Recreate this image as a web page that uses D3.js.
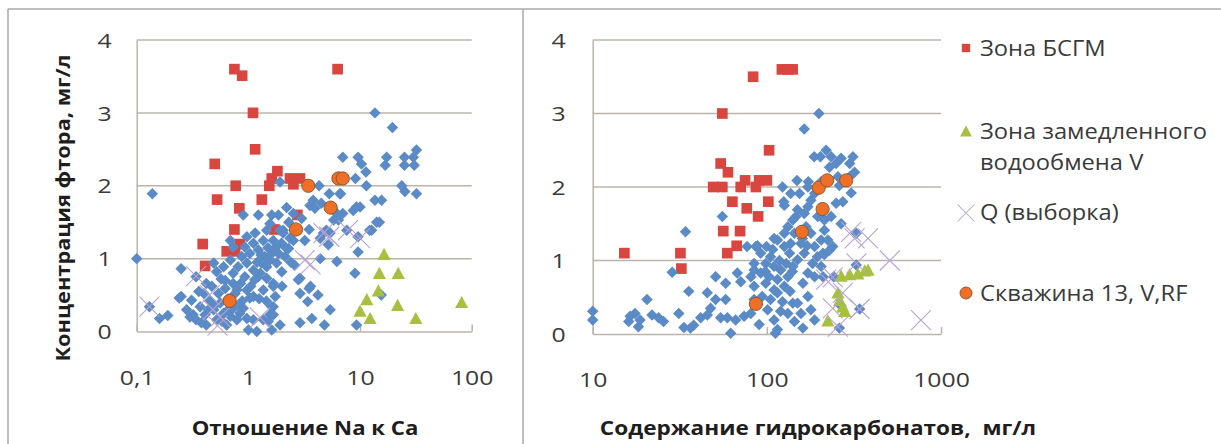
<!DOCTYPE html>
<html>
<head>
<meta charset="utf-8">
<script src="https://cdn.jsdelivr.net/npm/d3@7"></script>
<style>
  html, body { margin: 0; padding: 0; background: #ffffff; }
  svg { display: block; }
  text { font-family: "Open Sans", "Noto Sans", sans-serif; white-space: pre; }
</style>
</head>
<body>
<svg id="chart" width="1221" height="444"></svg>
<script>
// ---------- axis ticks and labels ----------
const fluorideTicks = [0, 1, 2, 3, 4];
const naCaTicks = [0.1, 1, 10, 100];
const naCaTickLabels = ["0,1", "1", "10", "100"];
const hco3Ticks = [10, 100, 1000];
const hco3TickLabels = ["10", "100", "1000"];

const naCaTitle = "Отношение Na к Ca";
const hco3Title = "Содержание гидрокарбонатов,  мг/л";
const fluorideTitle = "Концентрация фтора, мг/л";

const seriesNames = ["Зона БСГМ", "Зона замедленного\nводообмена V", "Q (выборка)", "Скважина 13, V,RF"];

// ---------- Na/Ca ratio vs fluoride, mg/l ----------
const naCaBsgm = [
  [0.75, 3.6], [0.88, 3.51], [6.3, 3.6], [1.10, 3.0], [1.15, 2.5], [0.50, 2.3],
  [0.77, 2.0], [0.525, 1.81], [1.32, 1.81], [0.83, 1.69], [1.54, 2.0], [1.62, 2.1],
  [1.82, 2.2], [2.36, 2.1], [2.53, 2.02], [2.90, 2.1], [2.75, 1.6], [1.71, 1.4],
  [0.75, 1.4], [0.39, 1.2], [0.84, 1.2], [0.64, 1.1], [0.76, 1.1], [0.41, 0.9]
];
const naCaSlowExchange = [
  [16.4, 1.05], [14.9, 0.79], [22.0, 0.79], [14.6, 0.55], [11.5, 0.43],
  [10.0, 0.27], [12.3, 0.17], [21.7, 0.35], [31.6, 0.17], [81.3, 0.39]
];
const naCaSampleQ = [
  [0.13, 0.34], [0.34, 0.76], [0.45, 0.5], [0.48, 0.3], [0.53, 0.08], [0.56, 0.2],
  [1.27, 0.19], [3.2, 0.98], [3.6, 0.92], [4.7, 1.35], [5.3, 1.3], [7.8, 1.39], [10.0, 1.28]
];
const naCaWell13 = [
  [3.44, 2.0], [6.4, 2.1], [7.0, 2.1], [5.46, 1.7], [2.67, 1.4], [0.68, 0.42]
];
const naCaOther = [
  [0.1, 1.0], [0.138, 1.89], [0.13, 0.34], [0.16, 0.18], [0.19, 0.22], [0.25, 0.86], [0.24, 0.46],
  [0.28, 0.30], [0.31, 0.43], [0.32, 0.23], [0.34, 0.16], [0.37, 0.34], [0.40, 0.52], [0.41, 0.23],
  [0.42, 0.09], [0.45, 0.43], [0.49, 0.30], [0.52, 0.16], [0.54, 0.52], [0.56, 0.39], [0.60, 0.25],
  [0.62, 0.59], [0.64, 0.09], [0.69, 0.21], [0.73, 0.32], [0.76, 0.52], [0.79, 0.16], [0.84, 0.25],
  [0.90, 0.32], [0.97, 0.18], [1.0, 0.02], [1.19, 0.0], [1.11, 0.16], [1.36, 0.16], [1.51, 0.14],
  [1.62, 0.02], [1.67, 0.23], [1.67, 0.34], [1.92, 0.09], [1.11, 0.48], [1.03, 0.46], [0.25, 0.48],
  [0.34, 0.75], [0.42, 0.66], [0.52, 0.82], [0.49, 0.94], [0.60, 0.89], [0.73, 0.80], [0.69, 0.98],
  [0.81, 0.89], [0.93, 0.75], [0.73, 0.66], [0.79, 0.57], [0.97, 0.57], [1.14, 0.71], [1.28, 0.80],
  [1.46, 0.73], [1.67, 0.62], [1.74, 0.48], [1.36, 0.57], [0.87, 1.03], [0.97, 0.94], [1.03, 1.07],
  [1.11, 1.21], [1.15, 1.35], [1.23, 1.12], [1.31, 0.94], [1.40, 1.03], [1.46, 0.89], [1.56, 0.98],
  [1.62, 1.07], [1.67, 1.25], [1.79, 0.94], [1.86, 1.07], [1.98, 1.21], [2.05, 1.35], [2.13, 1.03],
  [2.29, 1.14], [2.36, 1.28], [2.53, 1.25], [1.11, 0.84], [1.23, 0.75], [0.93, 1.16], [0.97, 1.3],
  [0.73, 1.16], [0.69, 1.25], [0.9, 1.6], [1.23, 1.6], [1.62, 1.6], [1.86, 1.6], [1.46, 1.39],
  [1.36, 1.25], [1.56, 1.48], [1.92, 1.39], [1.92, 2.05], [2.53, 1.62], [2.2, 1.7], [3.0, 1.55],
  [3.5, 1.4], [2.3, 1.5], [1.56, 0.23], [1.62, 0.34], [2.8, 0.71], [1.67, 0.66], [1.99, 0.82],
  [2.6, 0.91], [2.9, 0.73], [3.5, 0.59], [4.2, 0.5], [3.4, 0.41], [5.4, 0.3], [3.7, 0.18],
  [2.9, 0.12], [4.8, 0.09], [9.3, 0.09], [3.2, 1.25], [5.2, 1.19], [4.4, 1.0], [4.7, 1.35],
  [6.2, 0.96], [9.0, 0.8], [9.6, 1.09], [12.2, 1.39], [14.1, 1.5], [3.6, 0.62], [2.9, 0.52],
  [4.4, 1.28], [2.2, 1.14], [2.05, 1.39], [13.6, 3.0], [19.5, 2.8], [7.0, 2.39], [9.6, 2.39],
  [10.3, 2.3], [11.3, 2.19], [17.3, 2.39], [16.8, 2.28], [25, 2.39], [30, 2.39], [25, 2.28],
  [30.6, 2.28], [32, 2.49], [9.1, 2.1], [11.4, 2.0], [4.3, 2.0], [5.3, 1.89], [6.7, 1.89],
  [23.6, 2.0], [25.2, 1.92], [32, 1.89], [3.8, 1.8], [13.6, 1.8], [15.6, 1.8], [10, 1.71],
  [8.7, 1.66], [3.56, 1.73], [3.94, 1.69], [9.3, 1.71], [6.2, 1.62], [5.0, 1.39], [7.6, 1.39],
  [9.6, 1.3], [12.7, 1.39], [14.9, 1.5], [6.6, 1.89], [4.5, 1.76], [5.8, 1.53], [5.4, 1.35],
  [7.0, 1.62], [6.4, 1.53], [15.5, 0.5], [0.57, 0.72], [0.47, 0.62], [0.66, 0.45], [0.36, 0.55],
  [1.05, 0.62], [1.25, 0.45], [0.88, 0.42], [1.45, 0.42], [2.4, 0.95], [2.0, 0.62],
  [0.30, 0.2], [0.38, 0.12], [0.44, 0.3], [0.5, 0.36], [0.58, 0.14], [0.66, 0.3], [0.82, 0.36],
  [0.62, 0.7], [0.85, 0.66], [1.2, 0.95], [1.5, 1.15], [1.75, 1.15], [1.3, 1.05]
];

// ---------- bicarbonate content, mg/l vs fluoride, mg/l ----------
const hco3Bsgm = [
  [15.2, 1.1], [31.9, 1.1], [32.3, 0.89], [55.5, 3.0], [83.4, 3.5], [122, 3.6],
  [131.6, 3.6], [140.6, 3.6], [103, 2.5], [54.3, 2.32], [59.8, 2.2], [49.2, 2.0],
  [55.5, 2.0], [70.8, 2.0], [75, 2.09], [86.5, 2.0], [90.3, 2.09], [100, 2.09],
  [63.4, 1.8], [102, 1.8], [76.7, 1.71], [89.1, 1.6], [56.2, 1.4], [70.2, 1.4],
  [67.1, 1.2], [59.3, 1.1]
];
const hco3SlowExchange = [
  [267, 0.78], [299, 0.8], [333, 0.81], [365, 0.85], [381, 0.86],
  [256, 0.55], [262, 0.45], [273, 0.36], [280, 0.3], [224, 0.17]
];
const hco3SampleQ = [
  [305, 1.39], [319, 1.30], [381, 1.30], [327, 0.96], [508, 1.0], [239, 0.77],
  [273, 0.56], [239, 0.35], [341, 0.34], [256, 0.10], [767, 0.19], [219, 0.74]
];
const hco3Well13 = [
  [198.6, 1.99], [222, 2.09], [285.6, 2.09], [209, 1.70], [159, 1.39], [86.5, 0.41]
];
const hco3Other = [
  [10, 0.31], [10, 0.19], [16.4, 0.24], [17.5, 0.28], [18.7, 0.19], [18.3, 0.10], [16.1, 0.17],
  [20.5, 0.47], [21.9, 0.26], [23.9, 0.22], [25.5, 0.17], [28.6, 0.84], [34.1, 1.39], [31.2, 0.28],
  [33.4, 0.09], [36.4, 0.08], [38, 0.12], [35.6, 0.58], [45.5, 0.56], [50.8, 0.78], [58, 0.69],
  [55.5, 1.6], [41.7, 0.22], [45.5, 0.26], [47.5, 0.35], [54.3, 0.22], [59.3, 0.22], [66.2, 0.19],
  [74, 0.24], [80.9, 0.28], [84.5, 0.47], [62, 0.01], [50.8, 0.47], [58, 0.47], [70.8, 0.71],
  [67.7, 0.83], [84.5, 0.87], [86.5, 1.19], [88.3, 1.2], [99.5, 1.19], [110, 1.3], [101, 0.33],
  [110, 0.19], [115, 0.06], [112, 0.01], [90.3, 0.13], [123, 2.0], [125, 1.8], [149, 2.09],
  [164, 2.79], [199, 3.0], [187, 2.41], [203, 2.41], [219, 2.5], [234, 2.41], [250, 2.32],
  [267, 2.39], [312, 2.41], [299, 2.32], [319, 2.2], [305, 1.92], [273, 1.8], [261, 2.02],
  [267, 1.5], [214, 1.41], [224, 1.28], [214, 1.08], [326, 1.37], [326, 0.94], [242, 0.78],
  [341, 0.34], [261, 0.08], [267, 0.38], [161, 0.08], [136, 0.58], [141, 0.42], [120, 0.31],
  [123, 0.44], [84.5, 0.96], [92.2, 1.10], [98.6, 0.96], [105, 1.05], [110, 0.92], [92.2, 0.83],
  [103, 0.78], [115, 0.74], [120, 0.87], [129, 0.96], [135, 1.10], [137, 1.23], [144, 1.37],
  [147, 1.6], [150, 1.69], [141, 1.55], [164, 1.64], [172, 1.73], [179, 1.82], [188, 1.91],
  [172, 2.0], [154, 1.91], [137, 1.91], [157, 1.23], [164, 1.10], [150, 1.01], [141, 0.92],
  [132, 0.78], [126, 0.65], [115, 0.56], [105, 0.47], [94, 0.51], [84.5, 0.65], [81, 0.78],
  [77, 1.19], [115, 1.28], [126, 1.19], [126, 1.37], [132, 1.46], [168, 1.46], [179, 1.37],
  [188, 1.19], [183, 0.96], [172, 0.83], [161, 0.69], [188, 0.78], [205, 0.92], [210, 1.10],
  [205, 1.28], [172, 0.51], [150, 0.42], [157, 0.28], [179, 0.33], [188, 0.19], [144, 0.17],
  [132, 0.28], [110, 0.60], [98.6, 0.69], [88.3, 0.40], [173, 2.07], [205, 2.07], [229, 2.27],
  [256, 2.14], [299, 2.14], [250, 1.78], [234, 1.6], [214, 1.55], [196, 1.6], [239, 1.19],
  [229, 1.14], [126, 1.75], [210, 0.78], [98, 0.85], [108, 1.15], [118, 1.0], [140, 0.85],
  [160, 1.3], [170, 1.2], [195, 1.05]
];

// ---------- layout ----------
const W = 1221, H = 444;
const svg = d3.select("#chart");

const colors = {
  other: "#5b8bc6",
  bsgm: "#d9463f",
  slow: "#a7c03f",
  q: "#b9a2d2",
  well: "#ef6f26",
  wellStroke: "#8b5a32",
  grid: "#bab4ac",
  frame: "#a9a9a9",
  tick: "#3a3a3a",
  title: "#1e1e1e"
};

const TX = 1.13;        // horizontal stretch of the text face
const TICK_TX = 1.24;   // stretch of the numeric tick labels

// outer frame of the figure
const frame = svg.append("g").attr("stroke", colors.frame).attr("stroke-width", 1.5).attr("fill", "none");
frame.append("line").attr("x1", 8).attr("x2", 8).attr("y1", 9).attr("y2", H);
frame.append("line").attr("x1", 8).attr("x2", W).attr("y1", 9).attr("y2", 9);
frame.append("line").attr("x1", 523).attr("x2", 523).attr("y1", 9).attr("y2", H);

function stretchedText(g, str, x, y, anchor, size, weight, fill, sx, rotate) {
  return g.append("text")
    .attr("text-anchor", anchor)
    .attr("font-size", size)
    .attr("font-weight", weight)
    .attr("fill", fill)
    .attr("transform", `translate(${x},${y})` + (rotate ? ` rotate(${rotate})` : "") + ` scale(${sx},1)`)
    .text(str);
}

// symbol shapes
const diamondPath = d3.symbol().type(d3.symbolSquare).size(66)();
const squarePath = d3.symbol().type(d3.symbolSquare).size(114)();
const trianglePath = "M0,-7.2L6.6,5L-6.6,5Z";
const crossPath = "M-10,-10L10,10M-10,10L10,-10";

function drawPanel(cfg) {
  const g = svg.append("g");
  const x = d3.scaleLog().domain(cfg.domain).range([cfg.left, cfg.right]);
  const y = d3.scaleLinear().domain([0, 4]).range([cfg.bottom, cfg.top]);

  // horizontal gridlines
  g.append("g").selectAll("line").data(fluorideTicks.filter(d => d > 0)).join("line")
    .attr("x1", cfg.left).attr("x2", cfg.right)
    .attr("y1", d => y(d)).attr("y2", d => y(d))
    .attr("stroke", colors.grid).attr("stroke-width", 1.5);

  // x axis (ticks inside the plot area)
  const xAxis = d3.axisBottom(x)
    .tickValues(cfg.ticks)
    .tickFormat((d, i) => cfg.labels[i])
    .tickSizeInner(-7).tickSizeOuter(0).tickPadding(0);
  const gx = g.append("g").attr("transform", `translate(0,${cfg.bottom})`).call(xAxis);
  gx.select(".domain").attr("stroke", colors.grid).attr("stroke-width", 1.5);
  gx.selectAll(".tick line").attr("stroke", colors.grid).attr("stroke-width", 1.5);
  gx.selectAll(".tick text")
    .attr("y", null).attr("dy", null)
    .attr("font-size", 20).attr("fill", colors.tick)
    .attr("font-family", '"Open Sans", "Noto Sans", sans-serif')
    .attr("transform", `translate(0,${cfg.xLabelOffset}) scale(${TICK_TX},1)`);

  // y axis
  const yAxis = d3.axisLeft(y).tickValues(fluorideTicks).tickFormat(d3.format("d"))
    .tickSizeInner(0).tickSizeOuter(0).tickPadding(0);
  const gy = g.append("g").attr("transform", `translate(${cfg.left},0)`).call(yAxis);
  gy.select(".domain").attr("stroke", colors.grid).attr("stroke-width", 1.5);
  gy.selectAll(".tick text")
    .attr("x", null).attr("dy", "0.36em")
    .attr("font-size", 20).attr("fill", colors.tick)
    .attr("font-family", '"Open Sans", "Noto Sans", sans-serif')
    .attr("transform", `translate(${-cfg.yLabelGap},0) scale(${TICK_TX},1)`);

  const pos = d => `translate(${x(d[0])},${y(d[1])})`;

  g.append("g").selectAll("path").data(cfg.bsgm).join("path")
    .attr("d", squarePath).attr("transform", pos).attr("fill", colors.bsgm);

  g.append("g").selectAll("path").data(cfg.other).join("path")
    .attr("d", diamondPath).attr("transform", d => pos(d) + " rotate(45)").attr("fill", colors.other);

  g.append("g").selectAll("path").data(cfg.slow).join("path")
    .attr("d", trianglePath).attr("transform", pos).attr("fill", colors.slow);

  g.append("g").selectAll("path").data(cfg.q).join("path")
    .attr("d", crossPath).attr("transform", pos)
    .attr("fill", "none").attr("stroke", colors.q).attr("stroke-width", 1.1);

  g.append("g").selectAll("circle").data(cfg.well).join("circle")
    .attr("cx", d => x(d[0])).attr("cy", d => y(d[1])).attr("r", 6.6)
    .attr("fill", colors.well).attr("stroke", colors.wellStroke).attr("stroke-width", 1);

  // x axis title
  stretchedText(g, cfg.title, cfg.titleX, 435, "middle", 20, 700, colors.title, cfg.titleTx);
}

drawPanel({
  domain: [0.1, 100], ticks: naCaTicks, labels: naCaTickLabels,
  left: 136.7, right: 471.7, top: 40, bottom: 331.5,
  xLabelOffset: 53, yLabelGap: 25,
  bsgm: naCaBsgm, other: naCaOther, slow: naCaSlowExchange, q: naCaSampleQ, well: naCaWell13,
  title: naCaTitle, titleX: 305, titleTx: TX - 0.02
});

drawPanel({
  domain: [10, 1000], ticks: hco3Ticks, labels: hco3TickLabels,
  left: 592.7, right: 941, top: 40, bottom: 334,
  xLabelOffset: 52.5, yLabelGap: 27,
  bsgm: hco3Bsgm, other: hco3Other, slow: hco3SlowExchange, q: hco3SampleQ, well: hco3Well13,
  title: hco3Title, titleX: 818, titleTx: TX
});

// y axis title of the left panel
stretchedText(svg, fluorideTitle, 70, 208, "middle", 20, 700, colors.title, TX - 0.04, -90);

// legend
const legend = svg.append("g");
const legendRows = [
  { y: 48, lines: seriesNames[0].split("\n"), base: 56 },
  { y: 132, lines: seriesNames[1].split("\n"), base: 139 },
  { y: 213, lines: seriesNames[2].split("\n"), base: 220 },
  { y: 293, lines: seriesNames[3].split("\n"), base: 301 }
];
const lx = 966;
legend.append("path").attr("d", d3.symbol().type(d3.symbolSquare).size(70)())
  .attr("transform", `translate(${lx},${legendRows[0].y})`).attr("fill", colors.bsgm);
legend.append("path").attr("d", trianglePath)
  .attr("transform", `translate(${lx},${legendRows[1].y}) scale(0.9)`).attr("fill", colors.slow);
legend.append("path").attr("d", crossPath)
  .attr("transform", `translate(${lx},${legendRows[2].y}) scale(0.85)`)
  .attr("fill", "none").attr("stroke", colors.q).attr("stroke-width", 1.2);
legend.append("circle").attr("cx", lx).attr("cy", legendRows[3].y).attr("r", 6)
  .attr("fill", colors.well).attr("stroke", colors.wellStroke).attr("stroke-width", 1);

legendRows.forEach(r => {
  r.lines.forEach((line, i) => {
    stretchedText(legend, line, 980, r.base + i * 31, "start", 21, 400, colors.tick, TX);
  });
});
</script>
</body>
</html>
